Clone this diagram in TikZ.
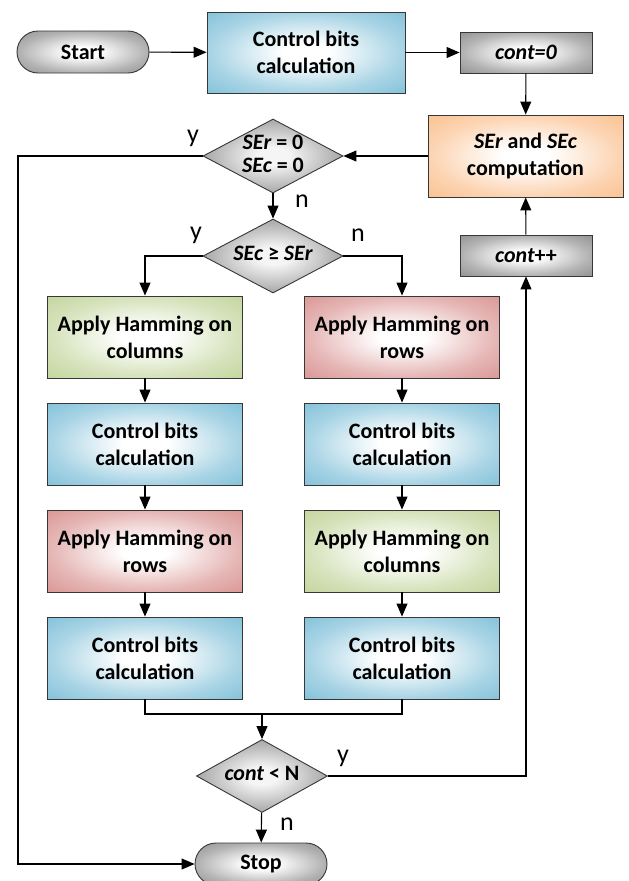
\documentclass[tikz,border=0pt]{standalone}
\usepackage{fontspec}
\setmainfont{Carlito}
\usetikzlibrary{shapes.geometric,arrows.meta}

\definecolor{cbblue}{RGB}{112,184,212}
\definecolor{hamgreen}{RGB}{186,207,142}
\definecolor{hamred}{RGB}{212,134,132}
\definecolor{seorange}{RGB}{250,184,128}
\definecolor{grayedge}{RGB}{128,128,128}
\definecolor{framecol}{RGB}{55,55,55}
\colorlet{glowcol}{gray}

% soft glow: white core fading into the fill colour towards the border
\pgfdeclareradialshading[glowcol]{boxglow}{\pgfpoint{0bp}{0bp}}{%
  color(0bp)=(white); color(6bp)=(white);
  color(24bp)=(glowcol!60!white); color(42bp)=(glowcol); color(50bp)=(glowcol)}
\pgfdeclareradialshading[glowcol]{diamondglow}{\pgfpoint{0bp}{0bp}}{%
  color(0bp)=(white!96!black); color(6bp)=(white!96!black);
  color(22bp)=(glowcol!60!white); color(38bp)=(glowcol); color(50bp)=(glowcol)}

\tikzset{
  glow/.style={shading=boxglow, /utils/exec={\colorlet{glowcol}{#1}}},
  dglow/.style={shading=diamondglow, /utils/exec={\colorlet{glowcol}{#1}}},
  base/.style={draw=framecol, line width=0.9pt, align=center, inner sep=0pt,
    font=\fontsize{22}{27}\selectfont\bfseries},
  procbox/.style={base, rectangle, minimum width=195pt, minimum height=82pt},
  bluebox/.style={procbox, glow=cbblue},
  greenbox/.style={procbox, glow=hamgreen},
  redbox/.style={procbox, glow=hamred},
  orangebox/.style={procbox, glow=seorange},
  counterbox/.style={base, rectangle, minimum width=132pt, minimum height=41pt,
    glow=grayedge},
  terminal/.style={base, rectangle, rounded corners=21pt, minimum width=132pt,
    minimum height=42pt, glow=grayedge},
  decision/.style={base, diamond, aspect=1, font=\fontsize{22}{23}\selectfont\bfseries,
    dglow=grayedge},
  link/.style={line width=1.1pt, draw=black},
  flow/.style={link, -{Triangle[length=13pt,width=11pt]}},
  branchlbl/.style={inner sep=0pt, font=\fontsize{26}{26}\selectfont}
}

\newcommand\dtext[1]{\makebox[0pt]{\begin{tabular}{@{}c@{}}#1\end{tabular}}}

\begin{document}
\begin{tikzpicture}[x=1pt, y=-1pt]
  \useasboundingbox (0,0) rectangle (629,881);

  % top row
  \node[terminal] (start) at (83,52) {Start};
  \node[bluebox, minimum width=198pt, minimum height=81pt] (cb0) at (306,52.5) {Control bits\\calculation};
  \node[counterbox] (c0) at (526,52.5) {\itshape cont=0};

  % syndrome evaluation and counter
  \node[orangebox] (ser) at (525.5,156) {{\itshape SEr} and {\itshape SEc}\\computation};
  \node[counterbox] (cpp) at (526,255.5) {{\itshape cont}++};

  % decisions
  \node[decision, minimum width=140pt, minimum height=74pt] (d1) at (273,156)
    {\dtext{\itshape SEr \upshape = 0\\\itshape SEc \upshape = 0}};
  \node[decision, minimum width=140pt, minimum height=74pt] (d2) at (273,256)
    {\dtext{\itshape SEc \upshape ≥ \itshape SEr}};

  % left branch
  \node[greenbox]  (l1) at (145,337) {Apply Hamming on\\columns};
  \node[bluebox]   (l2) at (145,444) {Control bits\\calculation};
  \node[redbox]    (l3) at (145,551) {Apply Hamming on\\rows};
  \node[bluebox]   (l4) at (145,658) {Control bits\\calculation};

  % right branch
  \node[redbox]    (r1) at (402,337) {Apply Hamming on\\rows};
  \node[bluebox]   (r2) at (402,444) {Control bits\\calculation};
  \node[greenbox]  (r3) at (402,551) {Apply Hamming on\\columns};
  \node[bluebox]   (r4) at (402,658) {Control bits\\calculation};

  % loop test and end
  \node[decision, minimum width=131pt, minimum height=73pt] (d3) at (262,776)
    {\dtext{\itshape cont \upshape < N}};
  \node[terminal] (stop) at (261,864) {Stop};

  \coordinate (leftrail) at (18,500);
  \coordinate (mergey) at (0,714);

  % connectors
  \draw[flow] (start) -- (cb0);
  \draw[flow] (cb0.east) -- (c0.west);
  \draw[flow] (c0) -- (ser);
  \draw[flow] (ser.west) -- (d1.east);
  \draw[flow] (cpp) -- (ser);
  \draw[flow] (d1.west) -| (leftrail) |- (stop.west);
  \draw[flow] (d1) -- (d2);
  \draw[flow] (d2.west) -| (l1.north);
  \draw[flow] (d2.east) -| (r1.north);
  \draw[flow] (l1) -- (l2);
  \draw[flow] (l2) -- (l3);
  \draw[flow] (l3) -- (l4);
  \draw[flow] (r1) -- (r2);
  \draw[flow] (r2) -- (r3);
  \draw[flow] (r3) -- (r4);
  \draw[link] (l4.south) -- (l4.south |- mergey) -- (r4.south |- mergey) -- (r4.south);
  \draw[flow] (d3.north |- mergey) -- (d3.north);
  \draw[flow] (d3.east) -| (cpp.south);
  \draw[flow] (d3) -- (stop);

  % branch labels
  \node[branchlbl] (y1) at (193,138) {y};
  \node[branchlbl] (n1) at (302,201) {n};
  \node[branchlbl] (y2) at (196,235) {y};
  \node[branchlbl] (n2) at (358,235) {n};
  \node[branchlbl] (y3) at (343,758) {y};
  \node[branchlbl] (n3) at (287,824) {n};
\end{tikzpicture}
\end{document}
